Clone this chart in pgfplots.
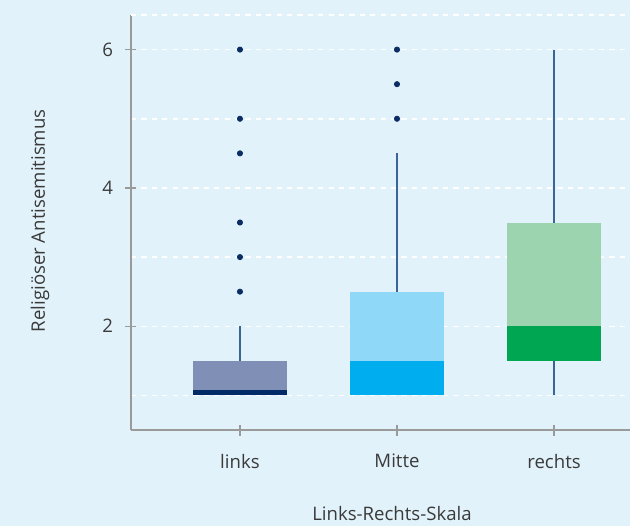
\documentclass[border=0pt]{standalone}
\usepackage{fontspec}
\setmainfont{Open Sans}
\usepackage{pgfplots}
\pgfplotsset{compat=1.18}

\definecolor{bg}{HTML}{E1F2FA}
\definecolor{txt}{HTML}{3A3A3A}
\definecolor{axisgray}{HTML}{9A9A9A}
\definecolor{whisk}{HTML}{3B6596}
\definecolor{dot}{HTML}{0A2D64}
\definecolor{linksD}{HTML}{002B66}
\definecolor{linksL}{HTML}{7F8FB6}
\definecolor{mitteD}{HTML}{00AEEF}
\definecolor{mitteL}{HTML}{8FD8F7}
\definecolor{rechtsD}{HTML}{00A651}
\definecolor{rechtsL}{HTML}{9BD4AE}

\begin{document}
\fontsize{9.3}{11}\selectfont
\begin{tikzpicture}
\path[use as bounding box, fill=bg] (-65.5pt,-48pt) rectangle (249.5pt,215pt);
\begin{axis}[
  scale only axis,
  width=249.5pt, height=207.5pt,
  xmin=-0.694, xmax=2.484,
  ymin=0.5, ymax=6.5,
  axis x line*=bottom, axis y line*=left,
  axis line style={axisgray, line width=0.9pt, -},
  xtick={0,1,2}, xticklabels={links,Mitte,rechts},
  ytick={2,4,6}, minor ytick={1,3,5},
  extra y ticks={6.5}, extra y tick labels={},
  extra y tick style={major tick length=0pt, ymajorgrids=true},
  tick align=center, major tick length=5.5pt, minor tick length=0pt,
  tick style={axisgray, line width=0.6pt},
  ymajorgrids, yminorgrids,
  grid style={white, line width=0.75pt, dash pattern=on 2.6pt off 2.6pt},
  minor grid style={white, line width=0.75pt, dash pattern=on 2.6pt off 2.6pt},
  ticklabel style={text=txt, font=\fontsize{9.3}{11}\selectfont},
  /pgf/number format/assume math mode=true,
  yticklabel style={xshift=-3pt},
  xticklabel style={yshift=-6pt},
  xlabel={Links-Rechts-Skala}, ylabel={Religiöser Antisemitismus},
  label style={text=txt, font=\fontsize{9.3}{11}\selectfont},
  xlabel style={at={(axis description cs:0.523,-0.2024)}, anchor=center},
  ylabel style={at={(axis description cs:-0.1824,0.504)}, anchor=center},
]
% links: Q1=1, med=1.08, Q3=1.5, whisker 2
\addplot[draw=none, fill=linksL] coordinates {(-0.3,1.08) (0.3,1.08) (0.3,1.5) (-0.3,1.5)} -- cycle;
\addplot[draw=none, fill=linksD] coordinates {(-0.3,1) (0.3,1) (0.3,1.08) (-0.3,1.08)} -- cycle;
\addplot[whisk, line width=0.8pt] coordinates {(0,1.5) (0,2)};
\addplot[only marks, mark=*, mark size=1.3pt, dot] coordinates {(0,2.5) (0,3) (0,3.5) (0,4.5) (0,5) (0,6)};
% Mitte: Q1=1, med=1.5, Q3=2.5, whisker 4.5
\addplot[draw=none, fill=mitteL] coordinates {(0.7,1.5) (1.3,1.5) (1.3,2.5) (0.7,2.5)} -- cycle;
\addplot[draw=none, fill=mitteD] coordinates {(0.7,1) (1.3,1) (1.3,1.5) (0.7,1.5)} -- cycle;
\addplot[whisk, line width=0.8pt] coordinates {(1,2.5) (1,4.5)};
\addplot[only marks, mark=*, mark size=1.3pt, dot] coordinates {(1,5) (1,5.5) (1,6)};
% rechts: Q1=1.5, med=2, Q3=3.5, whiskers 1 and 6
\addplot[draw=none, fill=rechtsL] coordinates {(1.7,2) (2.3,2) (2.3,3.5) (1.7,3.5)} -- cycle;
\addplot[draw=none, fill=rechtsD] coordinates {(1.7,1.5) (2.3,1.5) (2.3,2) (1.7,2)} -- cycle;
\addplot[whisk, line width=0.8pt] coordinates {(2,3.5) (2,6)};
\addplot[whisk, line width=0.8pt] coordinates {(2,1) (2,1.5)};
\end{axis}
\end{tikzpicture}
\end{document}
